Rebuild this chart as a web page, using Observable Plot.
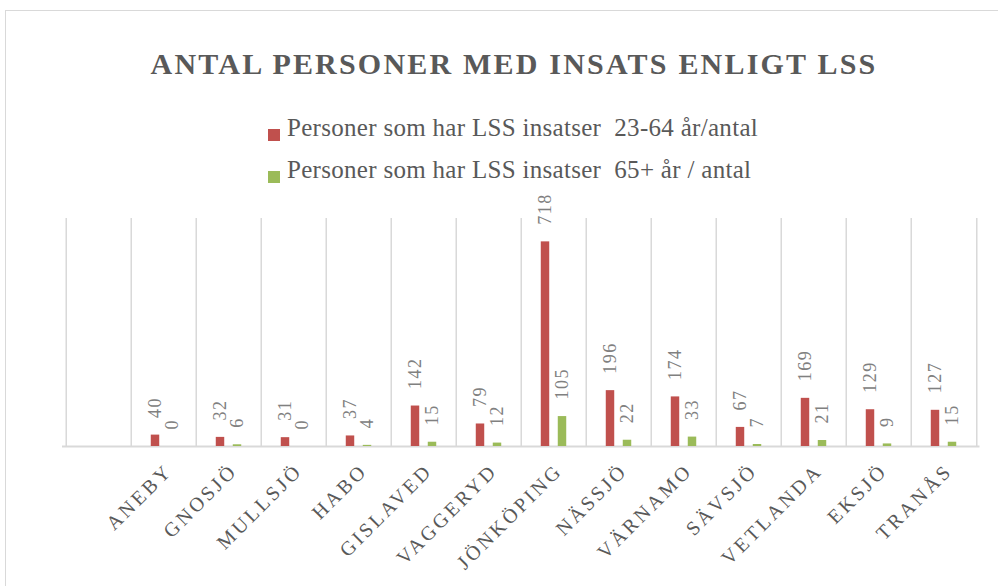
<!DOCTYPE html>
<html>
<head>
<meta charset="utf-8">
<script src="https://cdn.jsdelivr.net/npm/d3@7"></script>
<script src="https://cdn.jsdelivr.net/npm/@observablehq/plot@0.6"></script>
<style>
  html, body { margin: 0; padding: 0; background: #ffffff; overflow: hidden; }
  #wrap { position: relative; width: 998px; height: 586px; overflow: hidden; font-family: "Liberation Serif", serif; }
  #frame { position: absolute; left: 5px; top: 10px; width: 1100px; height: 700px; border: 1px solid #d9d9d9; box-sizing: border-box; }
  #title { position: absolute; left: 0; width: 1028px; top: 49px; text-align: center; font-size: 30px; line-height: 30px; font-weight: bold; letter-spacing: 2.2px; color: #595959; white-space: nowrap; }
  .leg { position: absolute; left: 268px; font-size: 25px; line-height: 25px; color: #595959; white-space: pre; letter-spacing: 0.3px; }
  .sw { position: absolute; left: 0; width: 12px; height: 12px; }
  .lt { position: absolute; left: 19px; top: 0; }
  #plot { position: absolute; left: 0; top: 186px; }
  #plot g[aria-label^="x-axis"] text { letter-spacing: 3px; font-size: 20px; fill: #595959; }
  #plot g[aria-label="text"] text { letter-spacing: 1.5px; }
</style>
</head>
<body>
<div id="wrap">
  <div id="frame"></div>
  <div id="title">ANTAL PERSONER MED INSATS ENLIGT LSS</div>
  <div id="legend"></div>
  <div id="plot"></div>
</div>
<script>
// Data
const kommuner = ["", "ANEBY", "GNOSJÖ", "MULLSJÖ", "HABO", "GISLAVED", "VAGGERYD", "JÖNKÖPING", "NÄSSJÖ", "VÄRNAMO", "SÄVSJÖ", "VETLANDA", "EKSJÖ", "TRANÅS"];
const personer23_64 = [null, 40, 32, 31, 37, 142, 79, 718, 196, 174, 67, 169, 129, 127];
const personer65 = [null, 0, 6, 0, 4, 15, 12, 105, 22, 33, 7, 21, 9, 15];
const serier = ["Personer som har LSS insatser  23-64 år/antal", "Personer som har LSS insatser  65+ år / antal"];
const farger = ["#C0504D", "#9BBB59"];
const yDomain = [0, 800];

// Legend (HTML, above the plot)
const legend = document.getElementById("legend");
const legendTops = [114.5, 156.5];
serier.forEach((s, i) => {
  const row = document.createElement("div");
  row.className = "leg";
  row.style.top = legendTops[i] + "px";
  const sw = document.createElement("div");
  sw.className = "sw";
  sw.style.background = farger[i];
  sw.style.top = "14.5px";
  const t = document.createElement("div");
  t.className = "lt";
  t.textContent = s;
  row.appendChild(sw);
  row.appendChild(t);
  legend.appendChild(row);
});

const rows = [];
kommuner.forEach((k, i) => {
  if (personer23_64[i] != null) rows.push({kommun: k, serie: 0, value: personer23_64[i]});
  if (personer65[i] != null) rows.push({kommun: k, serie: 1, value: personer65[i]});
});
const r0 = rows.filter(d => d.serie === 0);
const r1 = rows.filter(d => d.serie === 1);

const W = 998, H = 400, mL = 62, mR = 18.5, mT = 32, mB = 140;
const bw = (W - mL - mR) / kommuner.length;
const barW = 9;
const inset = (bw - barW) / 2;
const off = 8.5;

const hasAxisMark = typeof Plot.axisX === "function";
const axisOpts = {tickSize: 0, tickRotate: -45, tickPadding: 21, label: null};

const chart = Plot.plot({
  width: W,
  height: H,
  marginLeft: mL,
  marginRight: mR,
  marginTop: mT,
  marginBottom: mB,
  style: {background: "transparent", fontFamily: "Liberation Serif, serif", color: "#595959", overflow: "visible"},
  x: Object.assign({domain: kommuner, padding: 0}, hasAxisMark ? {axis: null} : axisOpts),
  y: {domain: yDomain, axis: null},
  marks: [
    Plot.ruleX(kommuner, {x: d => d, y1: yDomain[0], y2: yDomain[1], dx: -bw / 2, stroke: "#d9d9d9", strokeWidth: 1.5}),
    Plot.ruleX([kommuner[kommuner.length - 1]], {x: d => d, y1: yDomain[0], y2: yDomain[1], dx: bw / 2, stroke: "#d9d9d9", strokeWidth: 1.5}),
    Plot.ruleY([0], {stroke: "#d9d9d9", strokeWidth: 2}),
    Plot.barY(r0, {x: "kommun", y: "value", fill: farger[0], insetLeft: inset, insetRight: inset, dx: -off}),
    Plot.barY(r1, {x: "kommun", y: "value", fill: farger[1], insetLeft: inset, insetRight: inset, dx: off}),
    Plot.text(r0, {x: "kommun", y: "value", text: d => String(d.value), rotate: -90, textAnchor: "start", dx: -off, dy: -17, fontSize: 18, fill: "#808080"}),
    Plot.text(r1, {x: "kommun", y: "value", text: d => String(d.value), rotate: -90, textAnchor: "start", dx: off, dy: -17, fontSize: 18, fill: "#808080"}),
    hasAxisMark ? Plot.axisX(Object.assign({}, axisOpts, {dx: 5, fill: "#595959"})) : null
  ]
});
document.getElementById("plot").appendChild(chart);
</script>
</body>
</html>
